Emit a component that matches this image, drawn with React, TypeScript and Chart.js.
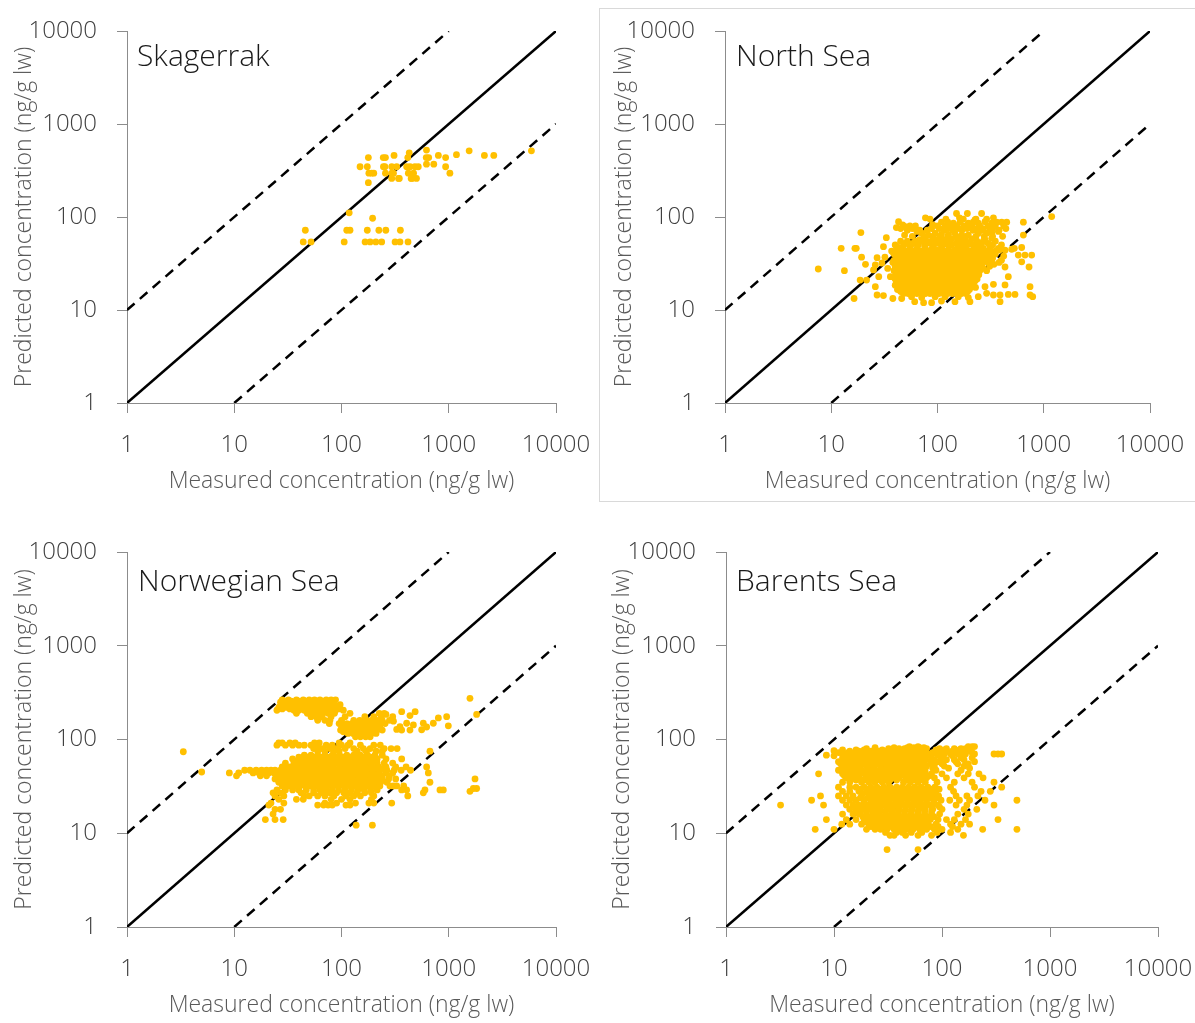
import React, { useEffect, useRef } from 'react';
import { Chart, registerables } from 'chart.js';

Chart.register(...registerables);

// ---------- axis / reference values ----------
const DECADES = [1, 10, 100, 1000, 10000];
const TICK_LABELS = ['1', '10', '100', '1000', '10000'];
const X_TITLE = 'Measured concentration (ng/g lw)';
const Y_TITLE = 'Predicted concentration (ng/g lw)';
const ONE_TO_ONE: [number, number][] = [[1, 1], [10000, 10000]];
const FACTOR_10_ABOVE: [number, number][] = [[1, 10], [1000, 10000]];
const FACTOR_10_BELOW: [number, number][] = [[10, 1], [10000, 1000]];

// ---------- data: rows of [predicted, [measured values...]] ----------
const skagerrakRows: [number, number[]][] = [
  [525, [620]],
  [515, [1550, 5900]],
  [490, [428]],
  [468, [1180]],
  [459, [309, 800, 2150, 2630]],
  [435, [178, 245, 257, 415, 617, 650, 935]],
  [370, [620, 725]],
  [347, [149, 174, 246, 254, 294, 327, 405, 436, 484, 520, 935]],
  [296, [180, 191, 200, 257, 295, 305, 420, 470, 1025]],
  [260, [294, 340, 346, 446, 455, 500]],
  [234, [178]],
  [111, [118]],
  [97, [195]],
  [72, [46, 112, 120, 174, 223, 259, 354]],
  [54, [44, 52, 106, 166, 185, 209, 237, 316, 351, 417]],
];

const northSeaRows: [number, number[]][] = [
  [109, [151, 191, 260]],
  [101, [1188]],
  [98, [77, 161, 336]],
  [95, [85, 120, 175, 230, 290]],
  [93, [225]],
  [89, [43, 280]],
  [88, [109, 125, 163, 217, 361, 402, 448, 643]],
  [86, [141, 195, 242, 324]],
  [83, [90]],
  [82, [47]],
  [80, [55, 62, 100, 118, 135, 152, 178, 210, 250, 300, 350, 420]],
  [79, [49]],
  [77, [41]],
  [75, [45, 58, 88, 104, 125, 160, 190, 230, 270, 330, 440]],
  [72, [52, 68, 80, 115, 140, 170, 215, 260, 310, 380]],
  [70, [64, 374]],
  [68, [19, 324]],
  [67, [71, 95, 146, 242, 290]],
  [65, [109, 127]],
  [64, [49, 82, 169, 195, 643]],
  [62, [58, 75, 90, 105, 125, 150, 185, 230, 275, 330, 410]],
  [60, [33]],
  [59, [324]],
  [58, [136, 210]],
  [57, [68, 95, 114, 169, 280]],
  [55, [45, 52, 62, 72, 79, 88, 105, 128, 155, 185, 235, 270, 350]],
  [52, [50, 58, 66, 86, 100, 122, 150, 175, 200, 260, 300]],
  [50, [40, 48, 56, 66, 76, 90, 110, 125, 136, 165, 190, 215, 245, 330, 400]],
  [48, [31, 76, 157, 312]],
  [47, [43, 55, 109, 225, 620]],
  [46, [12.4, 16.7, 17.2, 46, 64, 92, 181, 270, 374, 529]],
  [45, [499]],
  [44, [41, 48, 56, 65, 75, 86, 98, 112, 128, 146, 167, 190, 218, 260, 310, 380, 432]],
  [43, [37, 52, 60, 70, 80, 100, 115, 150, 170, 205, 250, 290, 350]],
  [42, [38, 45, 52, 60, 69, 79, 90, 103, 118, 135, 155, 178, 205, 236, 270, 330]],
  [40, [39, 44, 48, 54, 59, 66, 72, 80, 88, 97, 107, 118, 130, 143, 158, 174, 192, 212, 234, 258, 285, 315, 350]],
  [39, [576, 666, 770]],
  [38, [42, 46, 51, 57, 63, 69, 76, 84, 93, 102, 112, 124, 137, 150, 166, 183, 202, 222, 246, 272, 300, 420]],
  [37, [19.3, 32]],
  [36.5, [27]],
  [36, [41, 45, 50, 55, 61, 67, 74, 82, 90, 99, 109, 120, 132, 146, 161, 177, 195, 215, 237, 262, 290, 330]],
  [34.2, [39, 43, 48, 53, 58, 64, 71, 78, 86, 95, 104, 115, 127, 140, 154, 170, 187, 206, 228, 252, 278, 320, 400]],
  [33, [620]],
  [32.5, [38, 42, 46, 51, 56, 62, 68, 75, 83, 91, 101, 111, 122, 135, 149, 164, 181, 200, 220, 243, 268, 300, 380]],
  [32, [30]],
  [31, [21, 41, 45, 50, 55, 61, 67, 74, 81, 89, 98, 108, 119, 131, 145, 160, 176, 194, 214, 236, 260, 340]],
  [30.5, [26]],
  [29.5, [40, 44, 49, 54, 59, 65, 72, 79, 87, 96, 106, 117, 129, 142, 157, 173, 191, 210, 232, 256, 310]],
  [29, [432, 727]],
  [28, [34, 40, 44, 48, 53, 58, 64, 71, 78, 86, 95, 104, 115, 127, 140, 154, 170, 187, 206, 228, 270]],
  [27.6, [7.55]],
  [27, [25]],
  [26.5, [13.3, 39, 43, 47, 52, 57, 63, 70, 77, 85, 94, 103, 114, 125, 138, 152, 168, 185, 204, 225, 250, 290]],
  [25.2, [41, 45, 50, 55, 60, 66, 73, 80, 88, 97, 107, 118, 130, 143, 158, 174, 192, 212, 235]],
  [24, [42, 46, 51, 56, 62, 68, 75, 83, 91, 101, 111, 122, 135, 149, 164, 181, 200, 222, 245]],
  [22.8, [28, 36, 464]],
  [22.7, [40, 44, 49, 54, 59, 65, 72, 79, 87, 96, 105, 116, 128, 141, 155, 171, 188, 207]],
  [21.5, [40, 44, 48, 53, 59, 65, 71, 79, 87, 96, 106, 116, 128, 141, 156, 172, 190, 210, 236]],
  [21, [18.7, 21.5]],
  [20.5, [42, 46, 51, 56, 62, 68, 75, 83, 91, 100, 110, 121, 134, 148, 163, 180, 198, 225]],
  [19.5, [41, 45, 50, 55, 61, 67, 74, 82, 90, 99, 109, 120, 133, 147, 162, 178, 197, 218]],
  [18.9, [336]],
  [18.6, [432]],
  [18.5, [40, 44, 48, 53, 59, 65, 71, 78, 86, 95, 105, 116, 128, 141, 155, 170, 190, 215]],
  [17.8, [26, 280, 743]],
  [17.5, [43, 47, 52, 57, 63, 69, 76, 84, 93, 102, 113, 124, 137, 151, 166, 184, 203, 228]],
  [16.6, [42, 46, 51, 56, 62, 68, 75, 83, 91, 100, 110, 121, 134, 148, 163, 180, 200]],
  [15.8, [45, 50, 55, 60, 66, 73, 80, 88, 97, 107, 118, 130, 143, 158, 174, 192]],
  [15.1, [290]],
  [15, [48, 53, 58, 64, 70, 77, 85, 94, 103, 114, 125, 138, 152, 168, 185]],
  [14.7, [464, 536]],
  [14.5, [27, 336, 388, 743]],
  [14.3, [31]],
  [13.9, [57, 95, 118, 157, 242, 787]],
  [13.6, [71, 195]],
  [13.3, [16.4, 38, 46]],
  [12.5, [109]],
  [12.3, [61, 146, 202, 388]],
  [12, [74, 88]],
];

const norwegianRows: [number, number[]][] = [
  [275, [1577]],
  [265, [28, 32, 38, 44, 50, 56, 63, 72, 80, 88]],
  [257, [30, 34, 40, 46, 54, 60, 66, 74]],
  [250, [27, 30, 35, 41, 47, 52, 60, 68, 76]],
  [242, [28, 31, 36, 40, 44, 50, 58, 62, 72, 80]],
  [235, [29, 33, 37, 42, 46, 55, 64, 70, 84, 97]],
  [227, [27, 30, 35, 41, 47, 51, 56, 62, 70, 78, 88]],
  [220, [26, 31, 39, 44, 49, 53, 58, 66, 74, 82, 92]],
  [212, [28, 33, 38, 42, 47, 54, 60, 66, 75, 84, 95]],
  [205, [25, 36, 40, 45, 51, 57, 62, 71, 79, 88, 104]],
  [198, [364, 486]],
  [190, [38, 48, 54, 60, 67, 75, 86, 120, 225, 250]],
  [185, [260, 1820]],
  [180, [435]],
  [175, [52, 58, 66, 80, 108, 165, 200, 235, 300, 956]],
  [170, [800]],
  [160, [60, 70, 78, 100, 130, 148, 170, 190, 215, 240, 280]],
  [157, [305]],
  [149, [405, 579, 718]],
  [148, [77, 95, 112, 125, 140, 155, 172, 188, 205, 230, 255]],
  [143, [468]],
  [142, [108, 120, 135, 150, 165, 182, 200, 220]],
  [140, [991]],
  [137, [105, 118, 132, 146, 160, 176, 195, 212, 228, 351]],
  [136, [622]],
  [131, [100, 114, 128, 142, 157, 172, 188, 205, 225]],
  [128, [327]],
  [127, [559]],
  [126, [98, 110, 122, 136, 150, 164, 180, 196, 215, 240, 364, 435]],
  [121, [104, 118, 132, 148, 165, 182, 200]],
  [116, [115, 128, 142, 158, 172, 190, 210]],
  [107, [135, 150, 168, 185]],
  [92, [26, 28, 33, 37, 56, 62, 95, 120]],
  [87, [25, 30, 35, 40, 45, 52, 60, 72, 82, 100, 115, 150, 200, 230]],
  [80, [55, 66, 78, 90, 108, 130, 160, 185, 250, 290, 330]],
  [75, [60, 70, 85, 95, 140, 170, 210, 240, 668]],
  [74, [3.35]],
  [68, [45, 52, 60, 70, 82, 96, 112, 130, 150, 175, 205, 240]],
  [65, [40, 48, 56, 65, 76, 89, 104, 121, 141, 165, 195]],
  [62, [35, 42, 48, 55, 63, 73, 84, 98, 115, 135, 158, 185, 215, 260, 364]],
  [58.5, [38, 45, 52, 59, 67, 77, 88, 101, 116, 133, 152, 175, 200]],
  [56, [30, 36, 42, 48, 55, 62, 70, 80, 92, 105, 120, 138, 160, 185, 215, 250, 300]],
  [51, [28, 33, 38, 44, 50, 57, 65, 74, 84, 96, 110, 126, 145, 167, 192, 222, 260, 320, 400, 622]],
  [49, [30, 35, 41, 46, 52, 58, 66, 74, 84, 95, 107, 121, 137, 155, 178, 205, 240]],
  [47, [12.5, 14, 16, 18, 20, 22, 24, 27, 30, 34, 38, 43, 48, 54, 61, 69, 78, 88, 100, 114, 130, 148, 170, 195, 225, 265, 310, 360, 440]],
  [45, [4.97]],
  [44, [9, 11, 15, 17, 19, 21, 23.5, 26, 29, 32, 36, 40, 45, 51, 57, 64, 72, 81, 92, 104, 118, 134, 152, 172, 196, 225, 258, 300, 645]],
  [42.5, [27, 30, 34, 38, 42, 47, 53, 59, 66, 75, 85, 95, 107, 121, 137, 155, 175, 198, 225]],
  [41, [10.5, 17.5, 20, 25, 28, 31, 35, 39, 44, 49, 55, 62, 70, 79, 89, 100, 113, 128, 145, 164, 186, 210, 240, 280]],
  [38, [24, 27, 30, 34, 38, 43, 48, 54, 61, 69, 78, 88, 99, 112, 127, 144, 163, 185, 210, 240, 275, 320, 1758]],
  [36.5, [28, 32, 36, 40, 45, 50, 57, 64, 72, 81, 91, 103, 117, 132, 150, 170, 192, 218]],
  [35, [26, 29, 33, 37, 42, 47, 53, 60, 67, 76, 86, 97, 110, 124, 140, 158, 180, 204, 232, 265, 668]],
  [33.5, [30, 34, 39, 44, 49, 55, 62, 70, 79, 89, 101, 114, 129, 146, 165, 188]],
  [32, [28, 32, 36, 41, 46, 52, 58, 66, 74, 84, 95, 107, 121, 137, 155, 176, 200, 228, 283, 305, 327, 380]],
  [30, [1695, 1820]],
  [29, [25, 30, 35, 40, 47, 55, 63, 72, 82, 94, 108, 124, 142, 163, 187, 215, 364, 405, 600, 828, 890]],
  [28, [1577]],
  [27, [23, 27, 42, 55, 65, 78, 90, 105, 120, 140, 165, 190, 579]],
  [25, [24, 29, 45, 50, 60, 70, 85, 110, 130, 150, 200, 415]],
  [23, [26, 38, 44, 80, 100, 120, 190]],
  [21, [22, 29, 70, 90, 135, 180, 200, 294]],
  [20, [21, 60, 68, 75, 82, 110, 120]],
  [18, [24, 27]],
  [16, [23]],
  [14, [19.5, 24, 28.6]],
  [12.2, [137, 194]],
];

const barentsRows: [number, number[]][] = [
  [84, [50, 60, 175, 190, 200]],
  [82, [24, 36, 48, 55, 62, 68]],
  [80, [20, 32, 40, 45, 52, 58, 65, 72, 95, 110, 130, 150, 165]],
  [77.5, [12, 16, 19, 24, 28, 33, 39, 45, 51, 58, 66, 88, 105, 145, 175]],
  [76, [10]],
  [75, [14, 17, 22, 26, 30, 36, 42, 48, 55, 62, 70, 110, 125, 140, 160, 185]],
  [72.5, [11, 13.5, 16.5, 19.5, 22.5, 26, 30.5, 35.5, 41, 47, 53.5, 61, 70, 82, 100, 120, 160, 190]],
  [70, [12, 15, 18, 21, 24, 28, 33, 38, 44, 50, 57, 65, 75, 90, 105, 120, 140, 165, 200, 303, 330, 357]],
  [68, [8.5]],
  [67, [10, 13, 15.5, 17.5, 20.5, 23.5, 27, 31, 36, 42, 48, 55, 63, 73, 95, 125, 150]],
  [64, [12, 14, 16.5, 19, 22, 25, 29, 34, 39, 45, 52, 60, 68, 80, 100, 150, 190]],
  [61, [12.5, 14.5, 16.5, 19.5, 22.5, 26, 30, 35, 40, 46, 53, 61, 70, 85, 110, 130, 160]],
  [58, [11, 13, 15, 18, 21, 24, 28, 32, 37, 43, 50, 57, 66, 78, 92, 135, 200]],
  [55, [11.5, 13.5, 16, 19, 22, 25.5, 29.5, 34, 39, 45, 52, 59, 68, 80, 100, 140, 175]],
  [52, [12, 14, 17, 20, 23, 27, 31, 36, 41, 47, 54, 62, 72, 85, 105, 160]],
  [49.5, [12.5, 15, 17.5, 20.5, 23.5, 27, 31, 35, 40, 46, 52, 60, 70, 82, 115, 180]],
  [47, [11, 13, 15.5, 18, 21, 24, 28, 32, 37, 42, 48, 56, 64, 88, 150]],
  [45, [12, 14, 16.5, 19.5, 22.5, 26, 30, 35, 40, 46, 53, 61, 70]],
  [43, [7.2, 12, 14, 16, 19, 22, 25, 29, 33, 38, 44, 50, 58, 67, 80, 100, 140, 175, 220]],
  [41, [12.5, 14.5, 17, 20, 23.5, 27, 31, 36, 41, 48, 55, 64, 76]],
  [39, [13, 15, 17, 20, 23, 26, 30, 35, 40, 46, 53, 62, 72, 85, 110, 160, 240]],
  [37, [14, 16, 19, 22, 25, 29, 33, 38, 47, 56, 66]],
  [35, [12, 14, 18, 21, 24, 28, 32, 44, 51, 60, 70, 90, 130, 190, 303]],
  [31, [11, 14, 16, 19, 22, 25, 29, 33, 38, 43, 49, 56, 64, 74, 86, 120, 200, 357]],
  [29.5, [17.5, 20.5, 23.5, 27, 31, 35.5, 40.5, 46, 53, 60, 69, 80, 94]],
  [28, [12, 14, 17, 20, 23, 26, 30, 34, 39, 45, 51, 58, 66, 76, 88, 128, 230, 280]],
  [26.5, [18.5, 21.5, 25, 28.5, 32.5, 37, 42, 48, 55, 63, 72, 83]],
  [25, [7.5, 11, 13, 15, 18, 21, 24, 27, 31, 35, 40, 46, 52, 60, 69, 80, 93, 135, 170, 215]],
  [23.7, [17.5, 20.5, 23.5, 26.5, 30, 34.5, 39.5, 45, 51, 58, 67, 77, 90]],
  [22.5, [6.2, 12, 14, 16, 19, 22, 25, 28, 32, 37, 42, 48, 55, 63, 72, 84, 98, 118, 145, 180, 250, 494]],
  [21.2, [19, 22, 25, 28.5, 32.5, 37, 42, 48, 55, 63, 72, 84]],
  [20, [3.2, 8, 13, 15, 17, 20, 23, 26, 30, 34, 39, 45, 51, 58, 67, 78, 92, 135, 170, 303]],
  [19, [18, 20.5, 23.5, 27, 31, 35, 40, 46, 53, 61, 70, 81, 95]],
  [18, [14, 16, 18.5, 21, 24, 27, 31, 35, 40, 46, 53, 61, 70, 82, 100, 160, 210]],
  [17, [17.5, 20, 23, 26.5, 30, 34.5, 39.5, 45, 52, 60, 69, 80]],
  [16, [12, 15, 17, 20, 23, 26, 30, 34, 39, 45, 52, 60, 69, 80, 95, 140, 175]],
  [15, [18.5, 21, 24, 27.5, 31.5, 36, 41, 47, 54, 62, 72, 84]],
  [14, [8.5, 13, 16, 19, 22, 25, 29, 33, 38, 44, 50, 58, 67, 78, 92, 110, 130, 165, 330]],
  [13.2, [20, 23, 26.5, 30.5, 35, 40, 46, 53, 61, 70]],
  [12.5, [11.8, 14, 18, 21, 24, 28, 32, 37, 42, 48, 55, 64, 74, 88, 120, 150, 180]],
  [11.8, [22, 26, 29, 34, 39, 44, 50, 58, 67, 78, 92, 125]],
  [11, [6.7, 10, 20, 24, 27, 31, 36, 41, 47, 54, 62, 72, 85, 100, 140, 238, 494]],
  [10.2, [30, 38, 43, 52, 65, 90, 120]],
  [9.5, [33, 36, 46, 60, 80, 158]],
  [6.7, [31, 60]],
];

// ---------- layout ----------
const FONT = "'Open Sans', 'Segoe UI', 'DejaVu Sans', sans-serif";
const X_AXIS_H = 92;

type Box = { x: number; y: number; w: number; h: number };
type Plot = { l: number; r: number; t: number; b: number };
type PanelCfg = { title: string; rows: [number, number[]][]; box: Box; plot: Plot; titleDy: number; titleDx: number };

const panels: PanelCfg[] = [
  { title: 'Skagerrak', rows: skagerrakRows, box: { x: 0, y: 0, w: 598, h: 512 }, plot: { l: 127, r: 556, t: 31, b: 403 }, titleDx: 10, titleDy: 35 },
  { title: 'North Sea', rows: northSeaRows, box: { x: 600, y: 9, w: 595, h: 491 }, plot: { l: 725, r: 1150, t: 31, b: 403 }, titleDx: 11, titleDy: 35 },
  { title: 'Norwegian Sea', rows: norwegianRows, box: { x: 0, y: 512, w: 598, h: 511 }, plot: { l: 127, r: 556, t: 552, b: 927 }, titleDx: 11, titleDy: 39 },
  { title: 'Barents Sea', rows: barentsRows, box: { x: 598, y: 512, w: 597, h: 511 }, plot: { l: 726, r: 1158, t: 552, b: 927 }, titleDx: 10, titleDy: 39 },
];

const toXY = (pairs: [number, number][]) => pairs.map(([x, y]) => ({ x, y }));
const rowsToPoints = (rows: [number, number[]][]) =>
  rows.flatMap(([y, xs]) => xs.map((x) => ({ x, y })));

const panelTitlePlugin = {
  id: 'panelTitle',
  afterDraw(chart: any, _args: any, opts: any) {
    const { ctx, chartArea } = chart;
    ctx.save();
    ctx.font = `300 30px ${FONT}`;
    ctx.fillStyle = '#1a1a1a';
    ctx.textAlign = 'left';
    ctx.textBaseline = 'alphabetic';
    ctx.fillText(opts.text, chartArea.left + opts.dx, chartArea.top + opts.dy);
    ctx.restore();
  },
};

const AXIS_COLOR = '#8c8c8c';
const TICK_COLOR = '#404040';
const TITLE_COLOR = '#595959';

function axisOptions(horizontal: boolean, size: number, title: string) {
  return {
    type: 'logarithmic' as const,
    position: horizontal ? 'bottom' : 'left',
    min: 1,
    max: 10000,
    afterBuildTicks: (s: any) => {
      s.ticks = DECADES.map((v) => ({ value: v }));
    },
    afterFit: (s: any) => {
      if (horizontal) s.height = size;
      else s.width = size;
      // the plot area is fixed by the layout padding; no extra room for labels
      s.paddingLeft = 0;
      s.paddingRight = 0;
      s.paddingTop = 0;
      s.paddingBottom = 0;
    },
    ticks: {
      autoSkip: false,
      maxRotation: 0,
      minRotation: 0,
      color: TICK_COLOR,
      padding: horizontal ? 18 : 20,
      font: { family: FONT, size: 24, weight: '300' },
      callback: (v: any) => {
        const i = DECADES.indexOf(Number(v));
        return i >= 0 ? TICK_LABELS[i] : '';
      },
    },
    grid: {
      display: true,
      drawOnChartArea: false,
      drawTicks: true,
      tickLength: 10,
      color: AXIS_COLOR,
      lineWidth: 1,
    },
    border: { display: true, color: AXIS_COLOR, width: 1 },
    title: {
      display: true,
      text: title,
      color: TITLE_COLOR,
      font: { family: FONT, size: 23, weight: '300' },
      padding: horizontal ? { top: 0, bottom: 0 } : { top: 11, bottom: 0 },
    },
  };
}

function Panel({ cfg }: { cfg: PanelCfg }) {
  const ref = useRef<HTMLCanvasElement | null>(null);
  useEffect(() => {
    if (!ref.current) return;
    const { box, plot } = cfg;
    const chart = new Chart(ref.current, {
      type: 'scatter',
      data: {
        datasets: [
          {
            label: cfg.title,
            data: rowsToPoints(cfg.rows),
            backgroundColor: '#FFC000',
            borderWidth: 0,
            pointRadius: 3.4,
            order: 0,
          } as any,
          {
            label: '1:1',
            data: toXY(ONE_TO_ONE),
            showLine: true,
            borderColor: '#000000',
            borderWidth: 2.5,
            pointRadius: 0,
            order: 1,
          },
          {
            label: 'x10',
            data: toXY(FACTOR_10_ABOVE),
            showLine: true,
            borderColor: '#000000',
            borderWidth: 2.5,
            borderDash: [10, 7],
            pointRadius: 0,
            order: 2,
          },
          {
            label: '/10',
            data: toXY(FACTOR_10_BELOW),
            showLine: true,
            borderColor: '#000000',
            borderWidth: 2.5,
            borderDash: [10, 7],
            pointRadius: 0,
            order: 3,
          },
        ],
      },
      options: {
        animation: false,
        responsive: false,
        devicePixelRatio: 1,
        layout: {
          padding: {
            left: 0,
            top: plot.t - box.y,
            right: box.x + box.w - plot.r,
            bottom: box.y + box.h - plot.b - X_AXIS_H,
          },
        },
        plugins: {
          legend: { display: false },
          tooltip: { enabled: false },
          panelTitle: { text: cfg.title, dx: cfg.titleDx, dy: cfg.titleDy },
        } as any,
        scales: {
          x: axisOptions(true, X_AXIS_H, X_TITLE) as any,
          y: axisOptions(false, plot.l - box.x, Y_TITLE) as any,
        },
      },
      plugins: [panelTitlePlugin],
    });
    return () => chart.destroy();
  }, [cfg]);
  const { box } = cfg;
  return (
    <canvas
      ref={ref}
      width={box.w}
      height={box.h}
      style={{ position: 'absolute', left: box.x, top: box.y, width: box.w, height: box.h }}
    />
  );
}

export default function App() {
  return (
    <div
      style={{
        position: 'absolute',
        left: 0,
        top: 0,
        width: 1195,
        height: 1023,
        overflow: 'hidden',
        background: '#ffffff',
      }}
    >
      <div
        style={{
          position: 'absolute',
          left: 599,
          top: 8,
          width: 597,
          height: 494,
          boxSizing: 'border-box',
          borderLeft: '1px solid #d9d9d9',
          borderTop: '1px solid #d9d9d9',
          borderBottom: '1px solid #d9d9d9',
        }}
      />
      {panels.map((p) => (
        <Panel key={p.title} cfg={p} />
      ))}
    </div>
  );
}
